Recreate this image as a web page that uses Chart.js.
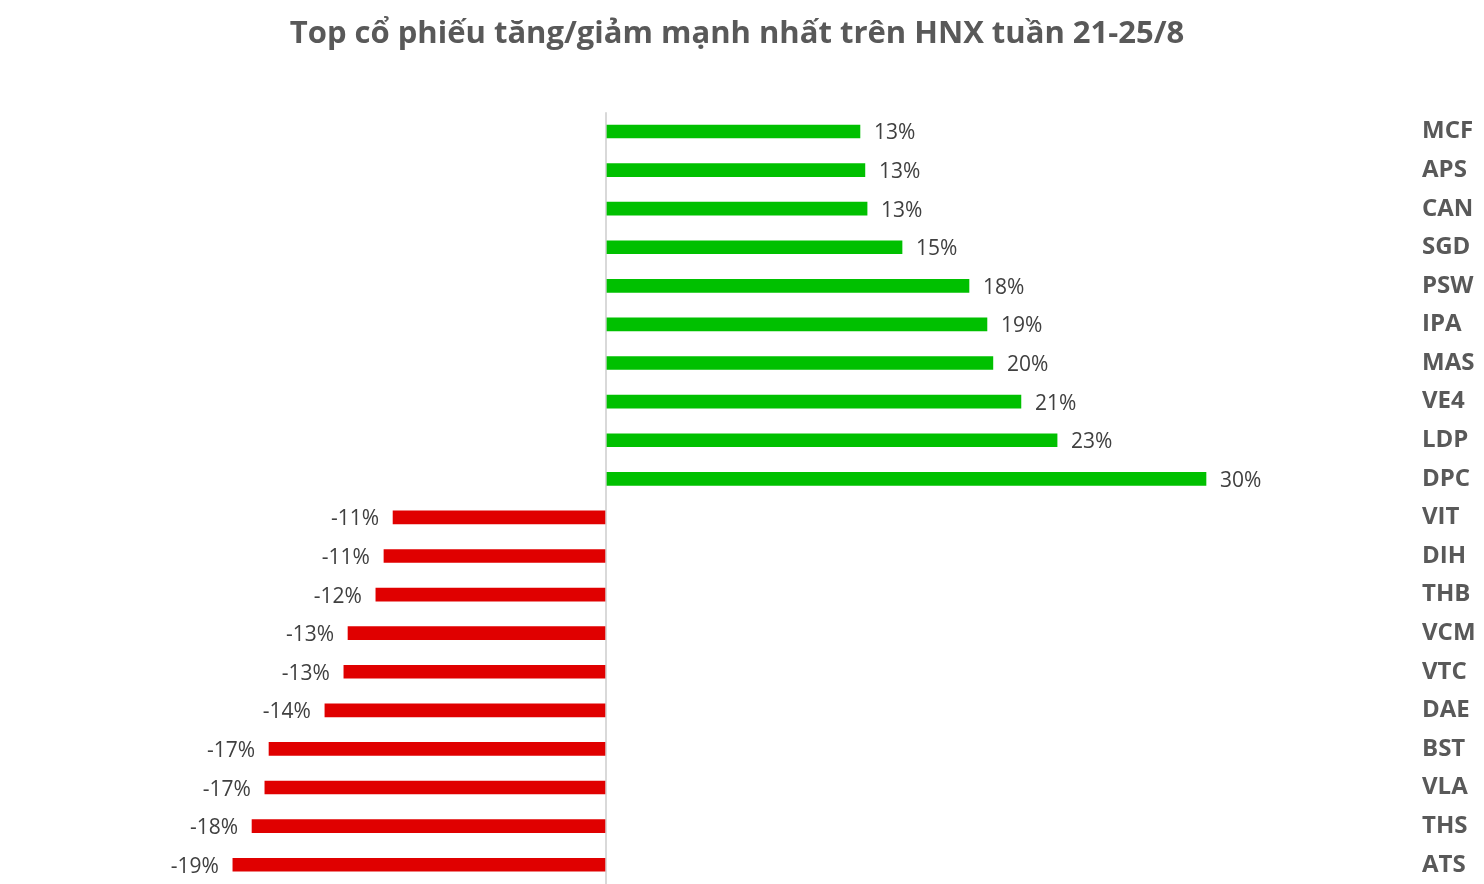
<!DOCTYPE html>
<html>
<head>
<meta charset="utf-8">
<script src="https://cdn.jsdelivr.net/npm/chart.js@4"></script>
<style>
  html, body { margin: 0; padding: 0; background: #fff; }
  #wrap { width: 1484px; height: 884px; position: relative; }
</style>
</head>
<body>
<div id="wrap"><canvas id="chart"></canvas></div>
<script>
// weekly change (%) of top gainers / losers on HNX, 21-25/8
const tickers = [
  "MCF", "APS", "CAN", "SGD", "PSW", "IPA", "MAS", "VE4", "LDP", "DPC",
  "VIT", "DIH", "THB", "VCM", "VTC", "DAE", "BST", "VLA", "THS", "ATS",
];
const changes = [
  12.86, 13.11, 13.22, 14.99, 18.38, 19.29, 19.59, 21.01, 22.84, 30.38,
  -10.78, -11.24, -11.65, -13.06, -13.27, -14.23, -17.06, -17.27, -17.92, -18.89,
];
const titleText = "Top cổ phiếu tăng/giảm mạnh nhất trên HNX tuần 21-25/8";

const upColor = "#00c000";
const downColor = "#e00000";

// draws "13%" / "-11%" next to the end of each bar
const valueLabels = {
  id: "valueLabels",
  afterDatasetsDraw(chart) {
    const { ctx } = chart;
    const meta = chart.getDatasetMeta(0);
    ctx.save();
    ctx.font = "21px 'Open Sans'";
    ctx.fillStyle = "#404040";
    ctx.textBaseline = "middle";
    meta.data.forEach((bar, i) => {
      const v = changes[i];
      const text = Math.round(v) + "%";
      if (v >= 0) {
        ctx.textAlign = "left";
        ctx.fillText(text, bar.x + 14, bar.y + 2);
      } else {
        ctx.textAlign = "right";
        ctx.fillText(text, bar.x - 14, bar.y + 2);
      }
    });
    ctx.restore();
  },
};

new Chart(document.getElementById("chart"), {
  type: "bar",
  data: {
    labels: tickers,
    datasets: [
      {
        data: changes,
        backgroundColor: changes.map((v) => (v >= 0 ? upColor : downColor)),
        barThickness: 13,
      },
    ],
  },
  options: {
    indexAxis: "y",
    responsive: true,
    maintainAspectRatio: false,
    animation: false,
    layout: { padding: { left: 0, right: 10, top: 0, bottom: 0 } },
    plugins: {
      legend: { display: false },
      tooltip: { enabled: false },
      title: {
        display: true,
        text: titleText,
        color: "#595959",
        font: { family: "'Open Sans'", size: 31, weight: "bold" },
        padding: { top: 16, bottom: 59 },
      },
    },
    scales: {
      x: {
        min: -30.68,
        max: 40,
        ticks: { display: false },
        border: { display: false },
        grid: {
          drawTicks: false,
          lineWidth: 2,
          color: (c) => (c.tick && c.tick.value === 0 ? "#d9d9d9" : "rgba(0,0,0,0)"),
        },
      },
      y: {
        position: "right",
        afterFit: (scale) => {
          scale.width = 78;
          scale.paddingTop = 0;
          scale.paddingBottom = 0;
        },
        border: { display: false },
        grid: { display: false, drawTicks: false },
        ticks: {
          padding: 26,
          color: "#595959",
          font: { family: "'Open Sans'", size: 24, weight: "bold" },
        },
      },
    },
  },
  plugins: [valueLabels],
});
</script>
</body>
</html>
